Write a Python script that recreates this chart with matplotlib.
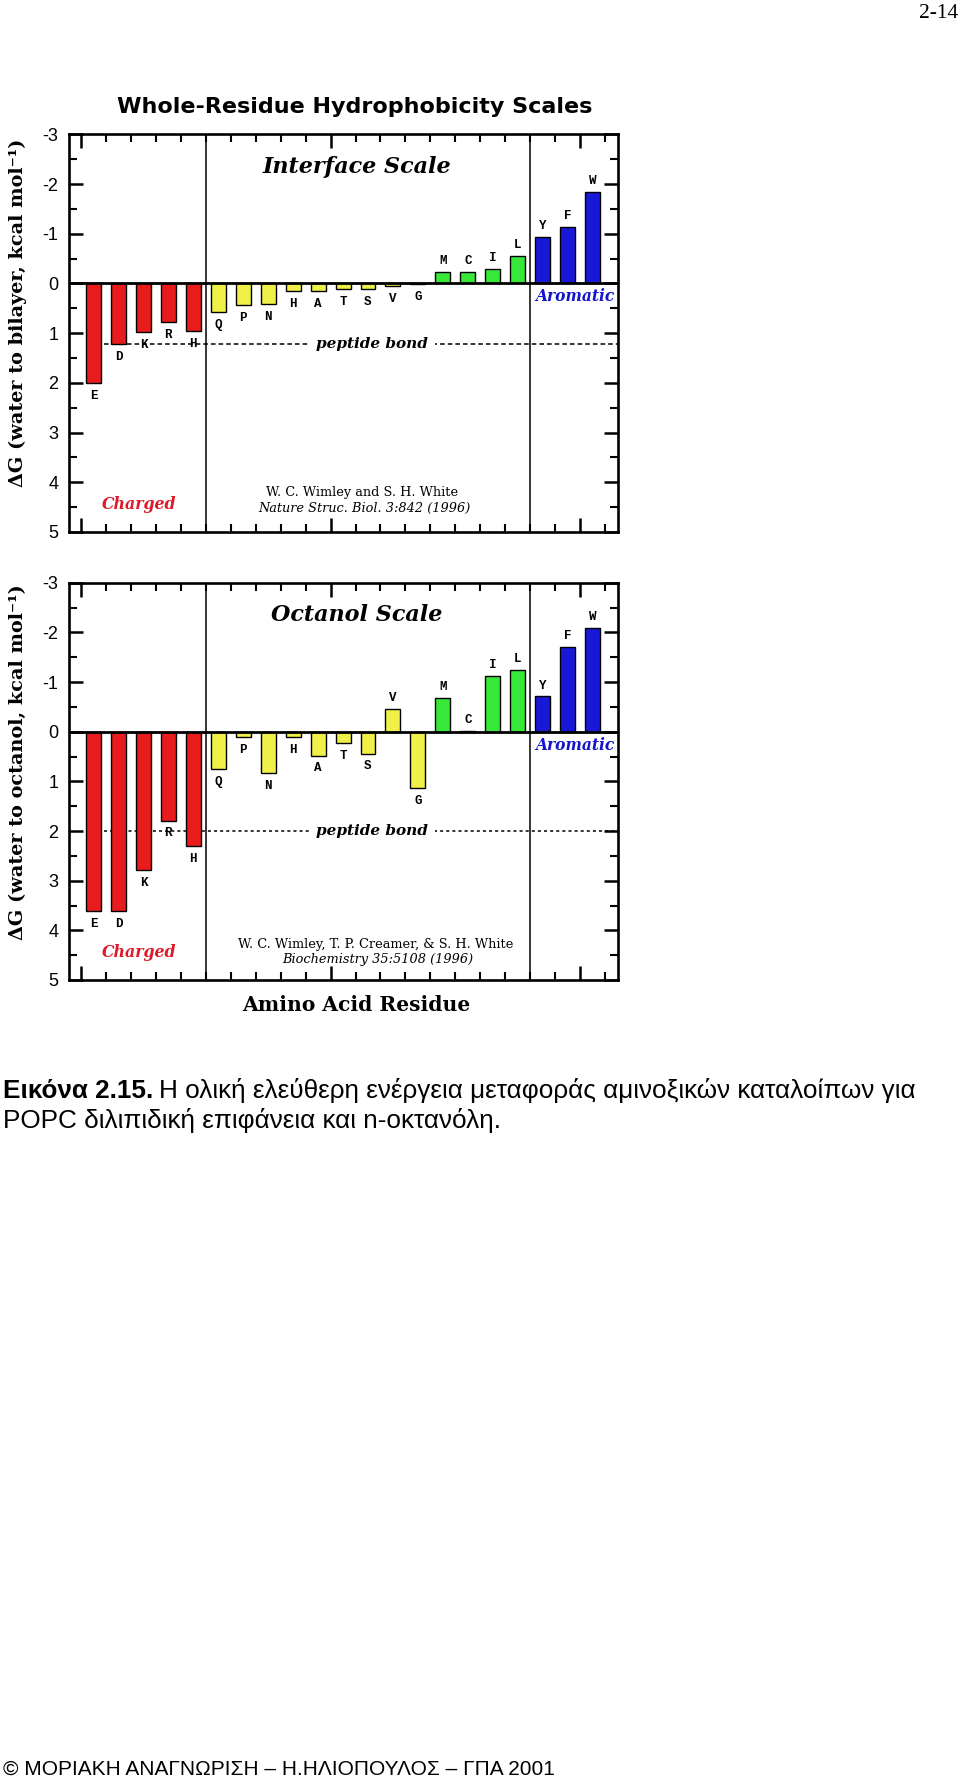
import matplotlib
matplotlib.use('Agg')
import matplotlib.pyplot as plt
import numpy as np
from matplotlib.ticker import FixedLocator, MultipleLocator

plt.rcParams['axes.unicode_minus'] = False

# residues in plotting order (H appears twice: His+ and His0)
residues = ['E', 'D', 'K', 'R', 'H', 'Q', 'P', 'N', 'H', 'A', 'T',
            'S', 'V', 'G', 'M', 'C', 'I', 'L', 'Y', 'F', 'W']
groups = ['charged'] * 5 + ['polar'] * 9 + ['apolar'] * 4 + ['aromatic'] * 3

# dG values, kcal/mol
interface_dg = [2.00, 1.22, 0.98, 0.78, 0.95, 0.57, 0.44, 0.41, 0.15, 0.15, 0.12,
                0.12, 0.06, 0.01, -0.23, -0.23, -0.29, -0.55, -0.93, -1.13, -1.84]
octanol_dg = [3.62, 3.62, 2.79, 1.79, 2.31, 0.76, 0.10, 0.83, 0.10, 0.48, 0.22,
              0.44, -0.46, 1.14, -0.67, -0.02, -1.12, -1.25, -0.71, -1.71, -2.09]
peptide_interface = 1.21
peptide_octanol = 2.0

group_colors = {'charged': '#E81C1C', 'polar': '#F0F048',
                'apolar': '#38E838', 'aromatic': '#1818D8'}

SERIF = 'DejaVu Serif'
SANS = 'Liberation Sans'


def draw_panel(ax, values, scale_name, peptide, dash, cite1, cite2, cite_x):
    x = np.arange(len(values))
    colors = [group_colors[g] for g in groups]
    ax.bar(x, values, width=0.6, color=colors, edgecolor='black', linewidth=1.0, zorder=3)

    ax.set_xlim(-0.97, 21.03)
    ax.set_ylim(5, -3)

    ax.axhline(0, color='black', lw=2.0, zorder=4)
    ax.axvline(4.5, color='black', lw=1.1, zorder=2)
    ax.axvline(17.5, color='black', lw=1.1, zorder=2)

    # peptide bond reference line
    ax.plot([0.42, 21.03], [peptide, peptide], color='black', lw=1.1,
            linestyle=dash, zorder=1)
    ax.text(11.15, peptide, 'peptide bond', ha='center', va='center',
            family=SERIF, weight='bold', style='italic', fontsize=11,
            bbox=dict(facecolor='white', edgecolor='none', pad=5), zorder=2)

    # residue letters
    for xi, v, r in zip(x, values, residues):
        if v < 0:
            ax.text(xi, v - 0.22, r, ha='center', va='center',
                    family='Liberation Mono', weight='bold', fontsize=9, zorder=5)
        else:
            ax.text(xi, v + 0.26, r, ha='center', va='center',
                    family='Liberation Mono', weight='bold', fontsize=9, zorder=5)

    ax.text(10.56, -2.34, scale_name, ha='center', va='center', family=SERIF,
            weight='bold', style='italic', fontsize=16)
    ax.text(19.3, 0.27, 'Aromatic', ha='center', va='center', family=SERIF,
            weight='bold', style='italic', fontsize=11.2, color='#1414CC')
    ax.text(1.82, 4.44, 'Charged', ha='center', va='center', family=SERIF,
            weight='bold', style='italic', fontsize=11.3, color='#DD1A2A')
    ax.text(cite_x, cite1[1], cite1[0], ha='center', va='center', family=SERIF,
            fontsize=9.3)
    ax.text(cite_x + 0.1, cite2[1], cite2[0], ha='center', va='center', family=SERIF,
            style='italic', fontsize=9.3)

    # axes, ticks
    for sp in ax.spines.values():
        sp.set_linewidth(1.9)
    ax.set_yticks(range(-3, 6))
    ax.yaxis.set_minor_locator(MultipleLocator(0.5))
    ax.xaxis.set_major_locator(FixedLocator([-0.5, 9.5, 19.5]))
    ax.xaxis.set_minor_locator(FixedLocator(np.arange(-0.5, 21, 1.0)))
    ax.tick_params(which='both', direction='in', top=True, right=True,
                   labelbottom=False)
    ax.tick_params(which='major', length=10, width=1.8, labelsize=13, pad=8)
    ax.tick_params(which='minor', length=5.5, width=1.5)
    for lab in ax.get_yticklabels():
        lab.set_family('Liberation Sans')


fig = plt.figure(figsize=(9.6, 17.78), dpi=100)
W, H = 960.0, 1778.0

ax1 = fig.add_axes([69.3 / W, 1 - 532.0 / H, 549.0 / W, 397.7 / H])
draw_panel(ax1, interface_dg, 'Interface Scale', peptide_interface, (0, (3, 2)),
           ('W. C. Wimley and S. H. White', 4.2),
           ('Nature Struc. Biol. 3:842 (1996)', 4.52), 10.76)

ax2 = fig.add_axes([69.3 / W, 1 - 980.0 / H, 549.0 / W, 397.3 / H])
draw_panel(ax2, octanol_dg, 'Octanol Scale', peptide_octanol, (0, (2, 2)),
           ('W. C. Wimley, T. P. Creamer, & S. H. White', 4.29),
           ('Biochemistry 35:5108 (1996)', 4.59), 11.3)

fig.text(355 / W, 1 - 107 / H, 'Whole-Residue Hydrophobicity Scales', ha='center',
         va='center', family='DejaVu Sans', weight='bold', fontsize=16)
fig.text(18 / W, 1 - 313 / H, 'ΔG (water to bilayer, kcal mol⁻¹)', rotation=90,
         ha='center', va='center', family=SERIF, weight='bold', fontsize=13.9)
fig.text(18 / W, 1 - 762 / H, 'ΔG (water to octanol, kcal mol⁻¹)', rotation=90,
         ha='center', va='center', family=SERIF, weight='bold', fontsize=13.9)
fig.text(356 / W, 1 - 1005 / H, 'Amino Acid Residue', ha='center', va='center',
         family=SERIF, weight='bold', fontsize=14.6)

# caption
bold = fig.text(3.4 / W, 1 - 1103 / H, 'Εικόνα 2.15.', ha='left', va='bottom',
                family=SANS, weight='bold', fontsize=18.8)
ax1.annotate('Η ολική ελεύθερη ενέργεια μεταφοράς αμινοξικών καταλοίπων για',
             xy=(1, 0), xycoords=bold, xytext=(4, 0), textcoords='offset points',
             ha='left', va='bottom', family=SANS, fontsize=18.8, annotation_clip=False)
fig.text(3.4 / W, 1 - 1133 / H, 'POPC διλιπιδική επιφάνεια και n-οκτανόλη.',
         ha='left', va='bottom', family=SANS, fontsize=18.8)

fig.text(958 / W, 1 - 13.5 / H, '2-14', ha='right', va='center',
         family='Liberation Serif', fontsize=15.5)
fig.text(3.4 / W, 1 - 1769 / H, '© ΜΟΡΙΑΚΗ ΑΝΑΓΝΩΡΙΣΗ – Η.ΗΛΙΟΠΟΥΛΟΣ – ΓΠΑ 2001',
         ha='left', va='center', family=SANS, fontsize=15)

fig.savefig('out.png', dpi=100)
